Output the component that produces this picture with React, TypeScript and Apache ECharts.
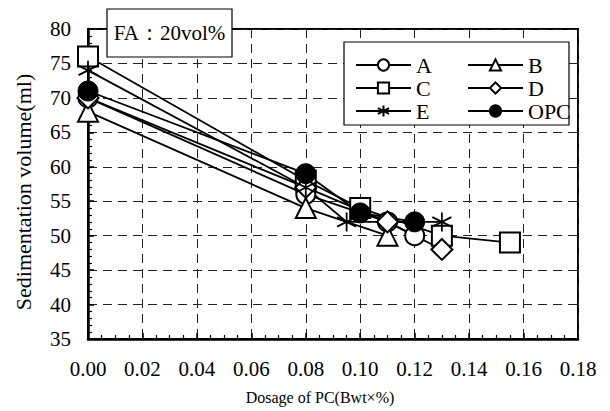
import React, { useEffect, useRef } from "react";
import * as echarts from "echarts";

const seriesNames = ["A", "B", "C", "D", "E", "OPC"];
const xA = [0, 0.08, 0.11, 0.12];
const yA = [70, 56, 52, 50];
const xB = [0, 0.08, 0.11];
const yB = [68, 54, 50];
const xC = [0, 0.08, 0.1, 0.13, 0.155];
const yC = [76, 58, 54, 50, 49];
const xD = [0, 0.08, 0.11, 0.13];
const yD = [70, 57, 52, 48];
const xE = [0, 0.08, 0.095, 0.13];
const yE = [74, 57, 52, 52];
const xOPC = [0, 0.08, 0.1, 0.12];
const yOPC = [71, 59, 53.3, 52];

const xTicks = [0, 0.02, 0.04, 0.06, 0.08, 0.1, 0.12, 0.14, 0.16, 0.18];
const yTicks = [35, 40, 45, 50, 55, 60, 65, 70, 75, 80];

const FONT = "Liberation Serif";
const STAR = "path://M10 0 L10 20 M1.34 5 L18.66 15 M1.34 15 L18.66 5";

const pairs = (xs: number[], ys: number[]) => xs.map((x, i) => [x, ys[i]]);

export default function App() {
  const ref = useRef<HTMLDivElement>(null);
  useEffect(() => {
    if (!ref.current) return;
    const chart = echarts.init(ref.current, undefined, { renderer: "svg" });
    const mk = (name: string, xs: number[], ys: number[], symbol: string, size: number, filled = false) => ({
      name,
      type: "line",
      data: pairs(xs, ys),
      symbol,
      symbolSize: size,
      showAllSymbol: true,
      lineStyle: { color: "#000", width: 1.8 },
      itemStyle: { color: "#000", borderColor: "#000", borderWidth: filled ? 1 : 1.8 },
      emphasis: { disabled: true },
      z: 2,
    });
    chart.setOption({
      animation: false,
      backgroundColor: "#fff",
      textStyle: { fontFamily: FONT, color: "#000" },
      grid: {
        left: 88,
        right: 32,
        top: 29,
        bottom: 72,
        show: true,
        borderColor: "#000",
        borderWidth: 2,
        backgroundColor: "transparent",
      },
      xAxis: {
        type: "value",
        min: xTicks[0],
        max: xTicks[xTicks.length - 1],
        interval: 0.02,
        name: "Dosage of PC(Bwt×%)",
        nameLocation: "middle",
        nameGap: 50,
        nameTextStyle: { fontFamily: FONT, fontSize: 16, color: "#000", padding: [0, 26, 0, 0] },
        axisLine: { show: true, lineStyle: { color: "#000", width: 2.5 } },
        axisTick: { show: true, inside: true, length: 6, lineStyle: { color: "#000", width: 1.5 } },
        minorTick: { show: true, splitNumber: 4, length: 4, lineStyle: { color: "#000", width: 1.2 } },
        axisLabel: {
          fontFamily: FONT,
          fontSize: 21,
          color: "#000",
          margin: 19,
          formatter: (v: number) => v.toFixed(2),
        },
        splitLine: { show: true, lineStyle: { color: "#222", width: 1, type: [9, 6] } },
      },
      yAxis: {
        type: "value",
        min: yTicks[0],
        max: yTicks[yTicks.length - 1],
        interval: 5,
        name: "Sedimentation volume(ml)",
        nameLocation: "middle",
        nameGap: 54,
        nameRotate: 90,
        nameTextStyle: { fontFamily: FONT, fontSize: 22, color: "#000", padding: [0, 16, 0, 0] },
        axisLine: { show: true, lineStyle: { color: "#000", width: 2.5 } },
        axisTick: { show: true, inside: true, length: 6, lineStyle: { color: "#000", width: 1.5 } },
        minorTick: { show: true, splitNumber: 5, length: 4, lineStyle: { color: "#000", width: 1.2 } },
        axisLabel: { fontFamily: FONT, fontSize: 21, color: "#000", margin: 17 },
        splitLine: { show: true, lineStyle: { color: "#222", width: 1, type: [9, 6] } },
      },
      legend: [
        {
          data: ["A", "C", "E"],
          orient: "vertical",
          left: 350,
          top: 49,
          itemWidth: 55,
          itemHeight: 14,
          itemGap: 1,
          textStyle: { fontFamily: FONT, fontSize: 22, color: "#000" },
          selectedMode: false,
          z: 5,
        },
        {
          data: ["B", "D", "OPC"],
          orient: "vertical",
          left: 462,
          top: 49,
          itemWidth: 55,
          itemHeight: 14,
          itemGap: 1,
          textStyle: { fontFamily: FONT, fontSize: 22, color: "#000" },
          selectedMode: false,
          z: 5,
        },
      ],
      graphic: [
        {
          type: "rect",
          z: 4,
          shape: { x: 344, y: 42, width: 225, height: 83 },
          style: { fill: "#fff", stroke: "#000", lineWidth: 1.2 },
        },
        {
          type: "rect",
          z: 4,
          shape: { x: 107, y: 9, width: 125, height: 48 },
          style: { fill: "#fff", stroke: "#000", lineWidth: 1.2 },
        },
        {
          type: "text",
          z: 5,
          x: 169.5,
          y: 33,
          style: {
            text: "FA：20vol%",
            fontFamily: FONT,
            fontSize: 21,
            fill: "#000",
            align: "center",
            verticalAlign: "middle",
          },
        },
      ],
      series: [
        mk(seriesNames[0], xA, yA, "emptyCircle", 19),
        mk(seriesNames[1], xB, yB, "emptyTriangle", 20),
        mk(seriesNames[2], xC, yC, "emptyRect", 20),
        mk(seriesNames[3], xD, yD, "emptyDiamond", 21),
        mk(seriesNames[4], xE, yE, STAR, 19),
        mk(seriesNames[5], xOPC, yOPC, "circle", 20, true),
      ],
    });
    return () => chart.dispose();
  }, []);
  return (
    <div
      ref={ref}
      style={{ position: "fixed", left: 0, top: 0, width: 610, height: 411, background: "#fff" }}
    />
  );
}
